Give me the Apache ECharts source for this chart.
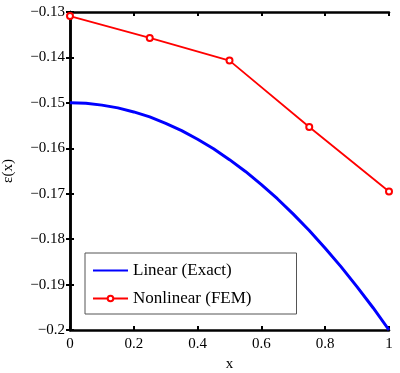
<!DOCTYPE html>
<html><head><meta charset="utf-8">
<script src="https://cdn.jsdelivr.net/npm/echarts@6/dist/echarts.min.js"></script>
<style>html,body{margin:0;padding:0;background:#fff}#c{width:400px;height:373px}</style>
</head><body><div id="c"></div>
<script>
var linearX = [0,0.05,0.1,0.15,0.2,0.25,0.3,0.35,0.4,0.45,0.5,0.55,0.6,0.65,0.7,0.75,0.8,0.85,0.9,0.95,1];
var linearY = [-0.15,-0.1501,-0.1505,-0.1511,-0.152,-0.1531,-0.1545,-0.1561,-0.158,-0.1601,-0.1625,-0.1651,-0.168,-0.1711,-0.1745,-0.1781,-0.182,-0.1861,-0.1905,-0.1951,-0.2];
var femX = [0,0.25,0.5,0.75,1];
var femY = [-0.1309,-0.1357,-0.1407,-0.1553,-0.1695];
var FONT = 'Liberation Serif';
function pairs(a,b){return a.map(function(v,i){return [v,b[i]];});}
var chart = echarts.init(document.getElementById('c'), null, {renderer:'canvas'});
var axisLine = {show:true, lineStyle:{color:'#000', width:2.5}};
var tick = {show:true, inside:true, length:4, lineStyle:{color:'#000', width:2}};
chart.setOption({
  animation:false,
  backgroundColor:'#fff',
  grid:{left:70, right:11, top:12, bottom:43, containLabel:false, outerBoundsMode:'none'},
  xAxis:[
    {type:'value', min:0, max:1, interval:0.2, position:'bottom',
     axisLine:axisLine, axisTick:tick, splitLine:{show:false},
     axisLabel:{color:'#000', fontFamily:FONT, fontSize:15, margin:7},
     name:'x', nameLocation:'middle', nameGap:22,
     nameTextStyle:{color:'#000', fontFamily:FONT, fontSize:15}},
    {type:'value', min:0, max:1, interval:0.2, position:'top',
     axisLine:axisLine, axisTick:tick, splitLine:{show:false}, axisLabel:{show:false}}
  ],
  yAxis:[
    {type:'value', min:-0.2, max:-0.13, interval:0.01, position:'left',
     axisLine:axisLine, axisTick:tick, splitLine:{show:false},
     axisLabel:{color:'#000', fontFamily:FONT, fontSize:15, margin:5,
       formatter:function(v){return String(Math.round(v*1000)/1000).replace('-','\u2212');}},
     name:'\u03b5(x)', nameLocation:'middle', nameGap:54, nameRotate:90,
     nameTextStyle:{color:'#000', fontFamily:FONT, fontSize:15}},
    {type:'value', min:-0.2, max:-0.13, interval:0.01, position:'right',
     axisLine:axisLine, axisTick:tick, splitLine:{show:false}, axisLabel:{show:false}}
  ],
  legend:{
    orient:'vertical', left:85, top:253,
    backgroundColor:'#fff', borderColor:'#555', borderWidth:1,
    padding:[9,45,7,7], itemGap:11, itemWidth:35, itemHeight:7,
    textStyle:{color:'#000', fontFamily:FONT, fontSize:17},
    data:[
      {name:'Linear (Exact)', itemStyle:{color:'rgba(0,0,0,0)', borderColor:'rgba(0,0,0,0)', borderWidth:0}},
      'Nonlinear (FEM)'
    ]
  },
  series:[
    {name:'Linear (Exact)', type:'line', data:pairs(linearX,linearY),
     symbol:'none', clip:false,
     lineStyle:{color:'#0000ff', width:3}, itemStyle:{color:'#0000ff'}},
    {name:'Nonlinear (FEM)', type:'line', data:pairs(femX,femY),
     symbol:'emptyCircle', symbolSize:6, clip:false,
     lineStyle:{color:'#ff0000', width:1.8},
     itemStyle:{color:'#ff0000', borderColor:'#ff0000', borderWidth:1.5}}
  ]
});
</script></body></html>
